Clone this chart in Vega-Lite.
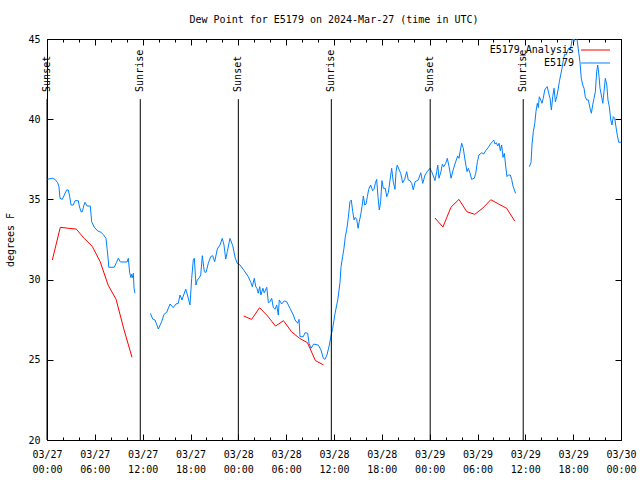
{
  "$schema": "https://vega.github.io/schema/vega-lite/v6.json",
  "width": 574,
  "height": 401,
  "autosize": "none",
  "padding": {"left": 47, "top": 39, "right": 19, "bottom": 40},
  "background": "#ffffff",
  "title": {"text": "Dew Point for E5179 on 2024-Mar-27 (time in UTC)", "font": "DejaVu Sans Mono", "fontSize": 10, "fontWeight": "normal", "color": "#000000", "offset": 9, "anchor": "middle"},
  "config": {
    "view": {"stroke": "#000000", "strokeWidth": 1},
    "font": "DejaVu Sans Mono",
    "axis": {"labelFont": "DejaVu Sans Mono", "labelFontSize": 10, "labelColor": "#000000", "titleFont": "DejaVu Sans Mono", "titleFontSize": 10, "titleFontWeight": "normal", "titleColor": "#000000", "tickColor": "#000000", "domain": false, "grid": false}
  },
  "datasets": {
    "obs": [
      {"t": "2024-03-27T00:00:00Z", "v": 36.25, "s": "E5179", "g": 1},
      {"t": "2024-03-27T00:40:00Z", "v": 36.32, "s": "E5179", "g": 1},
      {"t": "2024-03-27T01:00:00Z", "v": 36.25, "s": "E5179", "g": 1},
      {"t": "2024-03-27T01:20:00Z", "v": 36.04, "s": "E5179", "g": 1},
      {"t": "2024-03-27T01:30:00Z", "v": 35.79, "s": "E5179", "g": 1},
      {"t": "2024-03-27T01:38:00Z", "v": 35.07, "s": "E5179", "g": 1},
      {"t": "2024-03-27T01:55:00Z", "v": 35.0, "s": "E5179", "g": 1},
      {"t": "2024-03-27T02:10:00Z", "v": 35.27, "s": "E5179", "g": 1},
      {"t": "2024-03-27T02:28:00Z", "v": 35.59, "s": "E5179", "g": 1},
      {"t": "2024-03-27T02:40:00Z", "v": 35.59, "s": "E5179", "g": 1},
      {"t": "2024-03-27T02:51:00Z", "v": 35.17, "s": "E5179", "g": 1},
      {"t": "2024-03-27T03:01:00Z", "v": 34.65, "s": "E5179", "g": 1},
      {"t": "2024-03-27T03:18:00Z", "v": 34.65, "s": "E5179", "g": 1},
      {"t": "2024-03-27T03:31:00Z", "v": 34.92, "s": "E5179", "g": 1},
      {"t": "2024-03-27T03:56:00Z", "v": 34.92, "s": "E5179", "g": 1},
      {"t": "2024-03-27T04:03:00Z", "v": 34.59, "s": "E5179", "g": 1},
      {"t": "2024-03-27T04:16:00Z", "v": 34.23, "s": "E5179", "g": 1},
      {"t": "2024-03-27T04:26:00Z", "v": 34.23, "s": "E5179", "g": 1},
      {"t": "2024-03-27T04:36:00Z", "v": 34.59, "s": "E5179", "g": 1},
      {"t": "2024-03-27T04:46:00Z", "v": 34.82, "s": "E5179", "g": 1},
      {"t": "2024-03-27T05:01:00Z", "v": 34.59, "s": "E5179", "g": 1},
      {"t": "2024-03-27T05:26:00Z", "v": 34.59, "s": "E5179", "g": 1},
      {"t": "2024-03-27T05:36:00Z", "v": 33.61, "s": "E5179", "g": 1},
      {"t": "2024-03-27T05:56:00Z", "v": 33.26, "s": "E5179", "g": 1},
      {"t": "2024-03-27T06:22:00Z", "v": 33.03, "s": "E5179", "g": 1},
      {"t": "2024-03-27T06:46:00Z", "v": 32.95, "s": "E5179", "g": 1},
      {"t": "2024-03-27T07:07:00Z", "v": 32.78, "s": "E5179", "g": 1},
      {"t": "2024-03-27T07:24:00Z", "v": 32.57, "s": "E5179", "g": 1},
      {"t": "2024-03-27T07:32:00Z", "v": 31.95, "s": "E5179", "g": 1},
      {"t": "2024-03-27T07:41:00Z", "v": 31.22, "s": "E5179", "g": 1},
      {"t": "2024-03-27T07:45:00Z", "v": 30.77, "s": "E5179", "g": 1},
      {"t": "2024-03-27T08:26:00Z", "v": 30.77, "s": "E5179", "g": 1},
      {"t": "2024-03-27T08:42:00Z", "v": 31.05, "s": "E5179", "g": 1},
      {"t": "2024-03-27T08:57:00Z", "v": 31.33, "s": "E5179", "g": 1},
      {"t": "2024-03-27T09:12:00Z", "v": 31.1, "s": "E5179", "g": 1},
      {"t": "2024-03-27T10:02:00Z", "v": 31.1, "s": "E5179", "g": 1},
      {"t": "2024-03-27T10:12:00Z", "v": 31.33, "s": "E5179", "g": 1},
      {"t": "2024-03-27T10:22:00Z", "v": 30.43, "s": "E5179", "g": 1},
      {"t": "2024-03-27T10:32:00Z", "v": 30.12, "s": "E5179", "g": 1},
      {"t": "2024-03-27T10:37:00Z", "v": 30.33, "s": "E5179", "g": 1},
      {"t": "2024-03-27T10:45:00Z", "v": 30.12, "s": "E5179", "g": 1},
      {"t": "2024-03-27T10:50:00Z", "v": 30.4, "s": "E5179", "g": 1},
      {"t": "2024-03-27T10:55:00Z", "v": 29.46, "s": "E5179", "g": 1},
      {"t": "2024-03-27T11:02:00Z", "v": 29.15, "s": "E5179", "g": 1},
      {"t": "2024-03-27T12:58:00Z", "v": 27.9, "s": "E5179", "g": 2},
      {"t": "2024-03-27T13:16:00Z", "v": 27.54, "s": "E5179", "g": 2},
      {"t": "2024-03-27T13:33:00Z", "v": 27.48, "s": "E5179", "g": 2},
      {"t": "2024-03-27T13:58:00Z", "v": 26.92, "s": "E5179", "g": 2},
      {"t": "2024-03-27T14:23:00Z", "v": 27.38, "s": "E5179", "g": 2},
      {"t": "2024-03-27T14:41:00Z", "v": 27.84, "s": "E5179", "g": 2},
      {"t": "2024-03-27T15:01:00Z", "v": 27.96, "s": "E5179", "g": 2},
      {"t": "2024-03-27T15:26:00Z", "v": 28.48, "s": "E5179", "g": 2},
      {"t": "2024-03-27T15:50:00Z", "v": 28.25, "s": "E5179", "g": 2},
      {"t": "2024-03-27T16:11:00Z", "v": 28.48, "s": "E5179", "g": 2},
      {"t": "2024-03-27T16:28:00Z", "v": 28.52, "s": "E5179", "g": 2},
      {"t": "2024-03-27T16:41:00Z", "v": 29.04, "s": "E5179", "g": 2},
      {"t": "2024-03-27T16:56:00Z", "v": 28.73, "s": "E5179", "g": 2},
      {"t": "2024-03-27T17:24:00Z", "v": 29.41, "s": "E5179", "g": 2},
      {"t": "2024-03-27T17:39:00Z", "v": 28.98, "s": "E5179", "g": 2},
      {"t": "2024-03-27T17:56:00Z", "v": 28.42, "s": "E5179", "g": 2},
      {"t": "2024-03-27T18:09:00Z", "v": 30.08, "s": "E5179", "g": 2},
      {"t": "2024-03-27T18:21:00Z", "v": 31.22, "s": "E5179", "g": 2},
      {"t": "2024-03-27T18:29:00Z", "v": 31.33, "s": "E5179", "g": 2},
      {"t": "2024-03-27T18:41:00Z", "v": 29.66, "s": "E5179", "g": 2},
      {"t": "2024-03-27T18:51:00Z", "v": 29.97, "s": "E5179", "g": 2},
      {"t": "2024-03-27T19:06:00Z", "v": 30.12, "s": "E5179", "g": 2},
      {"t": "2024-03-27T19:17:00Z", "v": 30.29, "s": "E5179", "g": 2},
      {"t": "2024-03-27T19:29:00Z", "v": 31.49, "s": "E5179", "g": 2},
      {"t": "2024-03-27T19:44:00Z", "v": 30.49, "s": "E5179", "g": 2},
      {"t": "2024-03-27T19:57:00Z", "v": 30.45, "s": "E5179", "g": 2},
      {"t": "2024-03-27T20:14:00Z", "v": 31.02, "s": "E5179", "g": 2},
      {"t": "2024-03-27T20:32:00Z", "v": 31.43, "s": "E5179", "g": 2},
      {"t": "2024-03-27T20:47:00Z", "v": 31.49, "s": "E5179", "g": 2},
      {"t": "2024-03-27T21:02:00Z", "v": 31.12, "s": "E5179", "g": 2},
      {"t": "2024-03-27T21:22:00Z", "v": 31.91, "s": "E5179", "g": 2},
      {"t": "2024-03-27T21:42:00Z", "v": 32.16, "s": "E5179", "g": 2},
      {"t": "2024-03-27T21:59:00Z", "v": 32.57, "s": "E5179", "g": 2},
      {"t": "2024-03-27T22:12:00Z", "v": 32.16, "s": "E5179", "g": 2},
      {"t": "2024-03-27T22:25:00Z", "v": 31.28, "s": "E5179", "g": 2},
      {"t": "2024-03-27T22:37:00Z", "v": 31.74, "s": "E5179", "g": 2},
      {"t": "2024-03-27T22:57:00Z", "v": 32.57, "s": "E5179", "g": 2},
      {"t": "2024-03-27T23:18:00Z", "v": 32.11, "s": "E5179", "g": 2},
      {"t": "2024-03-27T23:37:00Z", "v": 31.33, "s": "E5179", "g": 2},
      {"t": "2024-03-27T23:52:00Z", "v": 31.02, "s": "E5179", "g": 2},
      {"t": "2024-03-28T00:13:00Z", "v": 30.91, "s": "E5179", "g": 2},
      {"t": "2024-03-28T00:45:00Z", "v": 30.54, "s": "E5179", "g": 2},
      {"t": "2024-03-28T01:15:00Z", "v": 30.18, "s": "E5179", "g": 2},
      {"t": "2024-03-28T01:35:00Z", "v": 29.81, "s": "E5179", "g": 2},
      {"t": "2024-03-28T01:45:00Z", "v": 29.56, "s": "E5179", "g": 2},
      {"t": "2024-03-28T02:00:00Z", "v": 30.08, "s": "E5179", "g": 2},
      {"t": "2024-03-28T02:11:00Z", "v": 29.56, "s": "E5179", "g": 2},
      {"t": "2024-03-28T02:20:00Z", "v": 29.46, "s": "E5179", "g": 2},
      {"t": "2024-03-28T02:30:00Z", "v": 29.15, "s": "E5179", "g": 2},
      {"t": "2024-03-28T02:41:00Z", "v": 29.56, "s": "E5179", "g": 2},
      {"t": "2024-03-28T02:50:00Z", "v": 29.04, "s": "E5179", "g": 2},
      {"t": "2024-03-28T03:05:00Z", "v": 29.46, "s": "E5179", "g": 2},
      {"t": "2024-03-28T03:15:00Z", "v": 29.18, "s": "E5179", "g": 2},
      {"t": "2024-03-28T03:34:00Z", "v": 29.52, "s": "E5179", "g": 2},
      {"t": "2024-03-28T03:46:00Z", "v": 28.56, "s": "E5179", "g": 2},
      {"t": "2024-03-28T03:58:00Z", "v": 28.62, "s": "E5179", "g": 2},
      {"t": "2024-03-28T04:11:00Z", "v": 28.83, "s": "E5179", "g": 2},
      {"t": "2024-03-28T04:23:00Z", "v": 28.27, "s": "E5179", "g": 2},
      {"t": "2024-03-28T04:36:00Z", "v": 28.15, "s": "E5179", "g": 2},
      {"t": "2024-03-28T04:49:00Z", "v": 28.42, "s": "E5179", "g": 2},
      {"t": "2024-03-28T05:01:00Z", "v": 27.79, "s": "E5179", "g": 2},
      {"t": "2024-03-28T05:08:00Z", "v": 28.73, "s": "E5179", "g": 2},
      {"t": "2024-03-28T05:26:00Z", "v": 28.48, "s": "E5179", "g": 2},
      {"t": "2024-03-28T05:46:00Z", "v": 28.67, "s": "E5179", "g": 2},
      {"t": "2024-03-28T06:04:00Z", "v": 28.62, "s": "E5179", "g": 2},
      {"t": "2024-03-28T06:29:00Z", "v": 28.21, "s": "E5179", "g": 2},
      {"t": "2024-03-28T06:54:00Z", "v": 27.79, "s": "E5179", "g": 2},
      {"t": "2024-03-28T07:07:00Z", "v": 27.48, "s": "E5179", "g": 2},
      {"t": "2024-03-28T07:27:00Z", "v": 27.28, "s": "E5179", "g": 2},
      {"t": "2024-03-28T07:37:00Z", "v": 27.52, "s": "E5179", "g": 2},
      {"t": "2024-03-28T07:44:00Z", "v": 26.44, "s": "E5179", "g": 2},
      {"t": "2024-03-28T08:09:00Z", "v": 26.44, "s": "E5179", "g": 2},
      {"t": "2024-03-28T08:22:00Z", "v": 26.69, "s": "E5179", "g": 2},
      {"t": "2024-03-28T08:42:00Z", "v": 26.65, "s": "E5179", "g": 2},
      {"t": "2024-03-28T08:52:00Z", "v": 26.03, "s": "E5179", "g": 2},
      {"t": "2024-03-28T09:07:00Z", "v": 25.72, "s": "E5179", "g": 2},
      {"t": "2024-03-28T09:27:00Z", "v": 25.98, "s": "E5179", "g": 2},
      {"t": "2024-03-28T10:02:00Z", "v": 25.92, "s": "E5179", "g": 2},
      {"t": "2024-03-28T10:22:00Z", "v": 25.61, "s": "E5179", "g": 2},
      {"t": "2024-03-28T10:40:00Z", "v": 25.09, "s": "E5179", "g": 2},
      {"t": "2024-03-28T10:52:00Z", "v": 25.03, "s": "E5179", "g": 2},
      {"t": "2024-03-28T11:07:00Z", "v": 25.3, "s": "E5179", "g": 2},
      {"t": "2024-03-28T11:25:00Z", "v": 25.92, "s": "E5179", "g": 2},
      {"t": "2024-03-28T11:37:00Z", "v": 26.48, "s": "E5179", "g": 2},
      {"t": "2024-03-28T11:50:00Z", "v": 26.96, "s": "E5179", "g": 2},
      {"t": "2024-03-28T12:08:00Z", "v": 27.9, "s": "E5179", "g": 2},
      {"t": "2024-03-28T12:28:00Z", "v": 28.73, "s": "E5179", "g": 2},
      {"t": "2024-03-28T12:45:00Z", "v": 29.81, "s": "E5179", "g": 2},
      {"t": "2024-03-28T12:53:00Z", "v": 30.8, "s": "E5179", "g": 2},
      {"t": "2024-03-28T13:05:00Z", "v": 31.43, "s": "E5179", "g": 2},
      {"t": "2024-03-28T13:15:00Z", "v": 31.95, "s": "E5179", "g": 2},
      {"t": "2024-03-28T13:25:00Z", "v": 32.67, "s": "E5179", "g": 2},
      {"t": "2024-03-28T13:36:00Z", "v": 33.14, "s": "E5179", "g": 2},
      {"t": "2024-03-28T13:48:00Z", "v": 33.88, "s": "E5179", "g": 2},
      {"t": "2024-03-28T14:00:00Z", "v": 34.86, "s": "E5179", "g": 2},
      {"t": "2024-03-28T14:10:00Z", "v": 34.96, "s": "E5179", "g": 2},
      {"t": "2024-03-28T14:21:00Z", "v": 34.23, "s": "E5179", "g": 2},
      {"t": "2024-03-28T14:31:00Z", "v": 33.72, "s": "E5179", "g": 2},
      {"t": "2024-03-28T14:40:00Z", "v": 33.88, "s": "E5179", "g": 2},
      {"t": "2024-03-28T14:51:00Z", "v": 33.76, "s": "E5179", "g": 2},
      {"t": "2024-03-28T15:01:00Z", "v": 33.2, "s": "E5179", "g": 2},
      {"t": "2024-03-28T15:10:00Z", "v": 33.61, "s": "E5179", "g": 2},
      {"t": "2024-03-28T15:21:00Z", "v": 34.03, "s": "E5179", "g": 2},
      {"t": "2024-03-28T15:31:00Z", "v": 34.55, "s": "E5179", "g": 2},
      {"t": "2024-03-28T15:41:00Z", "v": 35.21, "s": "E5179", "g": 2},
      {"t": "2024-03-28T15:51:00Z", "v": 34.65, "s": "E5179", "g": 2},
      {"t": "2024-03-28T16:01:00Z", "v": 34.71, "s": "E5179", "g": 2},
      {"t": "2024-03-28T16:11:00Z", "v": 35.17, "s": "E5179", "g": 2},
      {"t": "2024-03-28T16:21:00Z", "v": 35.63, "s": "E5179", "g": 2},
      {"t": "2024-03-28T16:36:00Z", "v": 35.9, "s": "E5179", "g": 2},
      {"t": "2024-03-28T16:51:00Z", "v": 35.54, "s": "E5179", "g": 2},
      {"t": "2024-03-28T17:01:00Z", "v": 35.63, "s": "E5179", "g": 2},
      {"t": "2024-03-28T17:11:00Z", "v": 36.0, "s": "E5179", "g": 2},
      {"t": "2024-03-28T17:21:00Z", "v": 36.25, "s": "E5179", "g": 2},
      {"t": "2024-03-28T17:31:00Z", "v": 35.17, "s": "E5179", "g": 2},
      {"t": "2024-03-28T17:41:00Z", "v": 34.34, "s": "E5179", "g": 2},
      {"t": "2024-03-28T17:51:00Z", "v": 34.86, "s": "E5179", "g": 2},
      {"t": "2024-03-28T18:01:00Z", "v": 36.17, "s": "E5179", "g": 2},
      {"t": "2024-03-28T18:11:00Z", "v": 35.69, "s": "E5179", "g": 2},
      {"t": "2024-03-28T18:26:00Z", "v": 35.69, "s": "E5179", "g": 2},
      {"t": "2024-03-28T18:37:00Z", "v": 35.17, "s": "E5179", "g": 2},
      {"t": "2024-03-28T18:49:00Z", "v": 35.42, "s": "E5179", "g": 2},
      {"t": "2024-03-28T19:02:00Z", "v": 36.21, "s": "E5179", "g": 2},
      {"t": "2024-03-28T19:14:00Z", "v": 36.94, "s": "E5179", "g": 2},
      {"t": "2024-03-28T19:26:00Z", "v": 36.1, "s": "E5179", "g": 2},
      {"t": "2024-03-28T19:39:00Z", "v": 35.63, "s": "E5179", "g": 2},
      {"t": "2024-03-28T19:47:00Z", "v": 36.73, "s": "E5179", "g": 2},
      {"t": "2024-03-28T19:56:00Z", "v": 37.14, "s": "E5179", "g": 2},
      {"t": "2024-03-28T20:11:00Z", "v": 36.83, "s": "E5179", "g": 2},
      {"t": "2024-03-28T20:22:00Z", "v": 36.63, "s": "E5179", "g": 2},
      {"t": "2024-03-28T20:37:00Z", "v": 36.04, "s": "E5179", "g": 2},
      {"t": "2024-03-28T20:52:00Z", "v": 36.25, "s": "E5179", "g": 2},
      {"t": "2024-03-28T21:07:00Z", "v": 36.73, "s": "E5179", "g": 2},
      {"t": "2024-03-28T21:19:00Z", "v": 36.21, "s": "E5179", "g": 2},
      {"t": "2024-03-28T21:32:00Z", "v": 36.17, "s": "E5179", "g": 2},
      {"t": "2024-03-28T21:45:00Z", "v": 36.0, "s": "E5179", "g": 2},
      {"t": "2024-03-28T21:57:00Z", "v": 35.59, "s": "E5179", "g": 2},
      {"t": "2024-03-28T22:10:00Z", "v": 36.1, "s": "E5179", "g": 2},
      {"t": "2024-03-28T22:34:00Z", "v": 36.21, "s": "E5179", "g": 2},
      {"t": "2024-03-28T22:53:00Z", "v": 36.66, "s": "E5179", "g": 2},
      {"t": "2024-03-28T23:08:00Z", "v": 36.0, "s": "E5179", "g": 2},
      {"t": "2024-03-28T23:25:00Z", "v": 36.52, "s": "E5179", "g": 2},
      {"t": "2024-03-28T23:42:00Z", "v": 36.73, "s": "E5179", "g": 2},
      {"t": "2024-03-29T00:02:00Z", "v": 36.94, "s": "E5179", "g": 2},
      {"t": "2024-03-29T00:15:00Z", "v": 36.73, "s": "E5179", "g": 2},
      {"t": "2024-03-29T00:30:00Z", "v": 36.4, "s": "E5179", "g": 2},
      {"t": "2024-03-29T00:40:00Z", "v": 36.17, "s": "E5179", "g": 2},
      {"t": "2024-03-29T00:53:00Z", "v": 36.73, "s": "E5179", "g": 2},
      {"t": "2024-03-29T01:01:00Z", "v": 37.14, "s": "E5179", "g": 2},
      {"t": "2024-03-29T01:10:00Z", "v": 36.32, "s": "E5179", "g": 2},
      {"t": "2024-03-29T01:25:00Z", "v": 36.73, "s": "E5179", "g": 2},
      {"t": "2024-03-29T01:35:00Z", "v": 37.19, "s": "E5179", "g": 2},
      {"t": "2024-03-29T01:46:00Z", "v": 37.04, "s": "E5179", "g": 2},
      {"t": "2024-03-29T02:01:00Z", "v": 37.25, "s": "E5179", "g": 2},
      {"t": "2024-03-29T02:13:00Z", "v": 37.56, "s": "E5179", "g": 2},
      {"t": "2024-03-29T02:26:00Z", "v": 37.04, "s": "E5179", "g": 2},
      {"t": "2024-03-29T02:41:00Z", "v": 36.32, "s": "E5179", "g": 2},
      {"t": "2024-03-29T02:58:00Z", "v": 36.88, "s": "E5179", "g": 2},
      {"t": "2024-03-29T03:16:00Z", "v": 37.35, "s": "E5179", "g": 2},
      {"t": "2024-03-29T03:31:00Z", "v": 37.71, "s": "E5179", "g": 2},
      {"t": "2024-03-29T03:41:00Z", "v": 37.56, "s": "E5179", "g": 2},
      {"t": "2024-03-29T03:51:00Z", "v": 38.08, "s": "E5179", "g": 2},
      {"t": "2024-03-29T04:01:00Z", "v": 38.5, "s": "E5179", "g": 2},
      {"t": "2024-03-29T04:13:00Z", "v": 38.19, "s": "E5179", "g": 2},
      {"t": "2024-03-29T04:26:00Z", "v": 37.46, "s": "E5179", "g": 2},
      {"t": "2024-03-29T04:41:00Z", "v": 36.73, "s": "E5179", "g": 2},
      {"t": "2024-03-29T04:51:00Z", "v": 36.94, "s": "E5179", "g": 2},
      {"t": "2024-03-29T05:04:00Z", "v": 36.63, "s": "E5179", "g": 2},
      {"t": "2024-03-29T05:16:00Z", "v": 36.25, "s": "E5179", "g": 2},
      {"t": "2024-03-29T05:36:00Z", "v": 36.32, "s": "E5179", "g": 2},
      {"t": "2024-03-29T05:47:00Z", "v": 36.63, "s": "E5179", "g": 2},
      {"t": "2024-03-29T05:59:00Z", "v": 37.35, "s": "E5179", "g": 2},
      {"t": "2024-03-29T06:11:00Z", "v": 37.77, "s": "E5179", "g": 2},
      {"t": "2024-03-29T06:32:00Z", "v": 37.91, "s": "E5179", "g": 2},
      {"t": "2024-03-29T06:47:00Z", "v": 37.83, "s": "E5179", "g": 2},
      {"t": "2024-03-29T07:02:00Z", "v": 38.04, "s": "E5179", "g": 2},
      {"t": "2024-03-29T07:22:00Z", "v": 38.25, "s": "E5179", "g": 2},
      {"t": "2024-03-29T07:37:00Z", "v": 38.45, "s": "E5179", "g": 2},
      {"t": "2024-03-29T07:52:00Z", "v": 38.6, "s": "E5179", "g": 2},
      {"t": "2024-03-29T08:02:00Z", "v": 38.7, "s": "E5179", "g": 2},
      {"t": "2024-03-29T08:12:00Z", "v": 38.45, "s": "E5179", "g": 2},
      {"t": "2024-03-29T08:22:00Z", "v": 38.53, "s": "E5179", "g": 2},
      {"t": "2024-03-29T08:32:00Z", "v": 38.33, "s": "E5179", "g": 2},
      {"t": "2024-03-29T08:42:00Z", "v": 38.5, "s": "E5179", "g": 2},
      {"t": "2024-03-29T08:52:00Z", "v": 38.04, "s": "E5179", "g": 2},
      {"t": "2024-03-29T09:02:00Z", "v": 38.39, "s": "E5179", "g": 2},
      {"t": "2024-03-29T09:12:00Z", "v": 37.62, "s": "E5179", "g": 2},
      {"t": "2024-03-29T09:22:00Z", "v": 37.87, "s": "E5179", "g": 2},
      {"t": "2024-03-29T09:32:00Z", "v": 37.08, "s": "E5179", "g": 2},
      {"t": "2024-03-29T09:42:00Z", "v": 36.42, "s": "E5179", "g": 2},
      {"t": "2024-03-29T09:52:00Z", "v": 36.52, "s": "E5179", "g": 2},
      {"t": "2024-03-29T10:07:00Z", "v": 36.52, "s": "E5179", "g": 2},
      {"t": "2024-03-29T10:17:00Z", "v": 36.25, "s": "E5179", "g": 2},
      {"t": "2024-03-29T10:27:00Z", "v": 35.84, "s": "E5179", "g": 2},
      {"t": "2024-03-29T10:37:00Z", "v": 35.59, "s": "E5179", "g": 2},
      {"t": "2024-03-29T10:47:00Z", "v": 35.38, "s": "E5179", "g": 2},
      {"t": "2024-03-29T12:30:00Z", "v": 37.04, "s": "E5179", "g": 3},
      {"t": "2024-03-29T12:43:00Z", "v": 37.31, "s": "E5179", "g": 3},
      {"t": "2024-03-29T12:50:00Z", "v": 38.39, "s": "E5179", "g": 3},
      {"t": "2024-03-29T13:00:00Z", "v": 39.22, "s": "E5179", "g": 3},
      {"t": "2024-03-29T13:11:00Z", "v": 39.74, "s": "E5179", "g": 3},
      {"t": "2024-03-29T13:20:00Z", "v": 40.47, "s": "E5179", "g": 3},
      {"t": "2024-03-29T13:30:00Z", "v": 40.99, "s": "E5179", "g": 3},
      {"t": "2024-03-29T13:38:00Z", "v": 40.72, "s": "E5179", "g": 3},
      {"t": "2024-03-29T13:45:00Z", "v": 41.4, "s": "E5179", "g": 3},
      {"t": "2024-03-29T13:56:00Z", "v": 41.2, "s": "E5179", "g": 3},
      {"t": "2024-03-29T14:05:00Z", "v": 40.99, "s": "E5179", "g": 3},
      {"t": "2024-03-29T14:15:00Z", "v": 41.3, "s": "E5179", "g": 3},
      {"t": "2024-03-29T14:26:00Z", "v": 41.82, "s": "E5179", "g": 3},
      {"t": "2024-03-29T14:36:00Z", "v": 41.96, "s": "E5179", "g": 3},
      {"t": "2024-03-29T14:45:00Z", "v": 42.03, "s": "E5179", "g": 3},
      {"t": "2024-03-29T14:56:00Z", "v": 41.61, "s": "E5179", "g": 3},
      {"t": "2024-03-29T15:06:00Z", "v": 41.3, "s": "E5179", "g": 3},
      {"t": "2024-03-29T15:16:00Z", "v": 40.57, "s": "E5179", "g": 3},
      {"t": "2024-03-29T15:26:00Z", "v": 41.4, "s": "E5179", "g": 3},
      {"t": "2024-03-29T15:36:00Z", "v": 41.93, "s": "E5179", "g": 3},
      {"t": "2024-03-29T15:46:00Z", "v": 41.09, "s": "E5179", "g": 3},
      {"t": "2024-03-29T15:56:00Z", "v": 41.4, "s": "E5179", "g": 3},
      {"t": "2024-03-29T16:06:00Z", "v": 41.82, "s": "E5179", "g": 3},
      {"t": "2024-03-29T16:16:00Z", "v": 42.34, "s": "E5179", "g": 3},
      {"t": "2024-03-29T16:26:00Z", "v": 42.76, "s": "E5179", "g": 3},
      {"t": "2024-03-29T16:36:00Z", "v": 43.17, "s": "E5179", "g": 3},
      {"t": "2024-03-29T16:46:00Z", "v": 43.69, "s": "E5179", "g": 3},
      {"t": "2024-03-29T16:56:00Z", "v": 44.05, "s": "E5179", "g": 3},
      {"t": "2024-03-29T17:06:00Z", "v": 44.0, "s": "E5179", "g": 3},
      {"t": "2024-03-29T17:16:00Z", "v": 44.21, "s": "E5179", "g": 3},
      {"t": "2024-03-29T17:26:00Z", "v": 44.42, "s": "E5179", "g": 3},
      {"t": "2024-03-29T17:36:00Z", "v": 44.31, "s": "E5179", "g": 3},
      {"t": "2024-03-29T17:46:00Z", "v": 44.63, "s": "E5179", "g": 3},
      {"t": "2024-03-29T17:56:00Z", "v": 45.2, "s": "E5179", "g": 3},
      {"t": "2024-03-29T18:06:00Z", "v": 44.83, "s": "E5179", "g": 3},
      {"t": "2024-03-29T18:16:00Z", "v": 45.3, "s": "E5179", "g": 3},
      {"t": "2024-03-29T18:26:00Z", "v": 45.2, "s": "E5179", "g": 3},
      {"t": "2024-03-29T18:38:00Z", "v": 44.42, "s": "E5179", "g": 3},
      {"t": "2024-03-29T18:51:00Z", "v": 43.58, "s": "E5179", "g": 3},
      {"t": "2024-03-29T19:01:00Z", "v": 42.55, "s": "E5179", "g": 3},
      {"t": "2024-03-29T19:12:00Z", "v": 42.13, "s": "E5179", "g": 3},
      {"t": "2024-03-29T19:22:00Z", "v": 41.93, "s": "E5179", "g": 3},
      {"t": "2024-03-29T19:31:00Z", "v": 41.4, "s": "E5179", "g": 3},
      {"t": "2024-03-29T19:42:00Z", "v": 41.2, "s": "E5179", "g": 3},
      {"t": "2024-03-29T19:54:00Z", "v": 41.2, "s": "E5179", "g": 3},
      {"t": "2024-03-29T20:07:00Z", "v": 40.68, "s": "E5179", "g": 3},
      {"t": "2024-03-29T20:17:00Z", "v": 40.37, "s": "E5179", "g": 3},
      {"t": "2024-03-29T20:27:00Z", "v": 40.89, "s": "E5179", "g": 3},
      {"t": "2024-03-29T20:37:00Z", "v": 41.3, "s": "E5179", "g": 3},
      {"t": "2024-03-29T20:47:00Z", "v": 41.71, "s": "E5179", "g": 3},
      {"t": "2024-03-29T20:57:00Z", "v": 42.96, "s": "E5179", "g": 3},
      {"t": "2024-03-29T21:05:00Z", "v": 43.38, "s": "E5179", "g": 3},
      {"t": "2024-03-29T21:15:00Z", "v": 42.65, "s": "E5179", "g": 3},
      {"t": "2024-03-29T21:22:00Z", "v": 41.93, "s": "E5179", "g": 3},
      {"t": "2024-03-29T21:32:00Z", "v": 41.51, "s": "E5179", "g": 3},
      {"t": "2024-03-29T21:43:00Z", "v": 40.99, "s": "E5179", "g": 3},
      {"t": "2024-03-29T21:52:00Z", "v": 41.71, "s": "E5179", "g": 3},
      {"t": "2024-03-29T22:02:00Z", "v": 42.55, "s": "E5179", "g": 3},
      {"t": "2024-03-29T22:13:00Z", "v": 42.13, "s": "E5179", "g": 3},
      {"t": "2024-03-29T22:22:00Z", "v": 41.2, "s": "E5179", "g": 3},
      {"t": "2024-03-29T22:32:00Z", "v": 40.78, "s": "E5179", "g": 3},
      {"t": "2024-03-29T22:43:00Z", "v": 39.95, "s": "E5179", "g": 3},
      {"t": "2024-03-29T22:52:00Z", "v": 39.64, "s": "E5179", "g": 3},
      {"t": "2024-03-29T23:02:00Z", "v": 40.16, "s": "E5179", "g": 3},
      {"t": "2024-03-29T23:13:00Z", "v": 40.06, "s": "E5179", "g": 3},
      {"t": "2024-03-29T23:22:00Z", "v": 39.53, "s": "E5179", "g": 3},
      {"t": "2024-03-29T23:32:00Z", "v": 39.01, "s": "E5179", "g": 3},
      {"t": "2024-03-29T23:43:00Z", "v": 38.56, "s": "E5179", "g": 3},
      {"t": "2024-03-29T23:59:00Z", "v": 38.56, "s": "E5179", "g": 3},
      {"t": "2024-03-27T00:40:00Z", "v": 31.22, "s": "E5179_Analysis", "g": 1},
      {"t": "2024-03-27T01:40:00Z", "v": 33.26, "s": "E5179_Analysis", "g": 1},
      {"t": "2024-03-27T02:40:00Z", "v": 33.2, "s": "E5179_Analysis", "g": 1},
      {"t": "2024-03-27T03:40:00Z", "v": 33.15, "s": "E5179_Analysis", "g": 1},
      {"t": "2024-03-27T04:40:00Z", "v": 32.57, "s": "E5179_Analysis", "g": 1},
      {"t": "2024-03-27T05:40:00Z", "v": 32.08, "s": "E5179_Analysis", "g": 1},
      {"t": "2024-03-27T06:40:00Z", "v": 31.12, "s": "E5179_Analysis", "g": 1},
      {"t": "2024-03-27T07:40:00Z", "v": 29.66, "s": "E5179_Analysis", "g": 1},
      {"t": "2024-03-27T08:40:00Z", "v": 28.77, "s": "E5179_Analysis", "g": 1},
      {"t": "2024-03-27T09:40:00Z", "v": 26.86, "s": "E5179_Analysis", "g": 1},
      {"t": "2024-03-27T10:40:00Z", "v": 25.15, "s": "E5179_Analysis", "g": 1},
      {"t": "2024-03-28T00:40:00Z", "v": 27.73, "s": "E5179_Analysis", "g": 2},
      {"t": "2024-03-28T01:40:00Z", "v": 27.52, "s": "E5179_Analysis", "g": 2},
      {"t": "2024-03-28T02:40:00Z", "v": 28.25, "s": "E5179_Analysis", "g": 2},
      {"t": "2024-03-28T03:40:00Z", "v": 27.73, "s": "E5179_Analysis", "g": 2},
      {"t": "2024-03-28T04:40:00Z", "v": 27.1, "s": "E5179_Analysis", "g": 2},
      {"t": "2024-03-28T05:40:00Z", "v": 27.44, "s": "E5179_Analysis", "g": 2},
      {"t": "2024-03-28T06:40:00Z", "v": 26.75, "s": "E5179_Analysis", "g": 2},
      {"t": "2024-03-28T07:40:00Z", "v": 26.34, "s": "E5179_Analysis", "g": 2},
      {"t": "2024-03-28T08:40:00Z", "v": 26.07, "s": "E5179_Analysis", "g": 2},
      {"t": "2024-03-28T09:40:00Z", "v": 24.95, "s": "E5179_Analysis", "g": 2},
      {"t": "2024-03-28T10:40:00Z", "v": 24.69, "s": "E5179_Analysis", "g": 2},
      {"t": "2024-03-29T00:40:00Z", "v": 33.84, "s": "E5179_Analysis", "g": 3},
      {"t": "2024-03-29T01:40:00Z", "v": 33.28, "s": "E5179_Analysis", "g": 3},
      {"t": "2024-03-29T02:40:00Z", "v": 34.51, "s": "E5179_Analysis", "g": 3},
      {"t": "2024-03-29T03:40:00Z", "v": 35.0, "s": "E5179_Analysis", "g": 3},
      {"t": "2024-03-29T04:40:00Z", "v": 34.23, "s": "E5179_Analysis", "g": 3},
      {"t": "2024-03-29T05:40:00Z", "v": 34.07, "s": "E5179_Analysis", "g": 3},
      {"t": "2024-03-29T06:40:00Z", "v": 34.46, "s": "E5179_Analysis", "g": 3},
      {"t": "2024-03-29T07:40:00Z", "v": 34.98, "s": "E5179_Analysis", "g": 3},
      {"t": "2024-03-29T08:40:00Z", "v": 34.71, "s": "E5179_Analysis", "g": 3},
      {"t": "2024-03-29T09:40:00Z", "v": 34.44, "s": "E5179_Analysis", "g": 3},
      {"t": "2024-03-29T10:40:00Z", "v": 33.65, "s": "E5179_Analysis", "g": 3}
    ],
    "sun": [
      {"t": "2024-03-27T00:00:00Z", "label": "Sunset"},
      {"t": "2024-03-27T11:42:00Z", "label": "Sunrise"},
      {"t": "2024-03-28T00:00:00Z", "label": "Sunset"},
      {"t": "2024-03-28T11:40:00Z", "label": "Sunrise"},
      {"t": "2024-03-29T00:04:00Z", "label": "Sunset"},
      {"t": "2024-03-29T11:44:00Z", "label": "Sunrise"}
    ]
  },
  "layer": [
    {
      "data": {"name": "obs"},
      "transform": [{"filter": "datum.s == 'E5179'"}],
      "mark": {"type": "line", "clip": true, "strokeWidth": 1},
      "encoding": {
        "x": {"field": "t", "type": "temporal",
              "scale": {"type": "utc", "domain": [1711497600000, 1711756800000]},
              "axis": {"orient": "bottom", "title": null,
                       "values": [1711497600000, 1711519200000, 1711540800000, 1711562400000, 1711584000000, 1711605600000, 1711627200000, 1711648800000, 1711670400000, 1711692000000, 1711713600000, 1711735200000, 1711756800000],
                       "tickSize": -6,
                       "labelExpr": "[utcFormat(datum.value, '%m/%d'), utcFormat(datum.value, '%H:%M')]",
                       "labelOverlap": false, "labelFlush": false, "labelPadding": 15, "labelLineHeight": 15, "labelBaseline": "top"}},
        "y": {"field": "v", "type": "quantitative",
              "scale": {"domain": [20, 45], "nice": false, "zero": false},
              "axis": {"orient": "left", "title": "degrees F", "values": [20, 25, 30, 35, 40, 45], "tickSize": -6, "labelPadding": 13, "titlePadding": 12}},
        "color": {"field": "s", "type": "nominal",
                  "scale": {"domain": ["E5179_Analysis", "E5179"], "range": ["#ff0000", "#0080ff"]},
                  "legend": {"orient": "none", "legendX": 543, "legendY": 5.5, "title": null, "symbolType": "M-2.9,0H2.9", "symbolSize": 100, "symbolStrokeWidth": 1,
                             "labelAlign": "right", "labelOffset": -27, "labelFont": "DejaVu Sans Mono", "labelFontSize": 10, "labelColor": "#000000", "rowPadding": 2, "padding": 0}},
        "detail": {"field": "g", "type": "nominal"}
      }
    },
    {
      "data": {"name": "obs"},
      "transform": [{"filter": "datum.s == 'E5179_Analysis'"}],
      "mark": {"type": "line", "clip": true, "strokeWidth": 1},
      "encoding": {
        "x": {"field": "t", "type": "temporal",
              "axis": {"orient": "top", "title": null, "labels": false,
                       "values": [1711497600000, 1711519200000, 1711540800000, 1711562400000, 1711584000000, 1711605600000, 1711627200000, 1711648800000, 1711670400000, 1711692000000, 1711713600000, 1711735200000, 1711756800000],
                       "tickSize": -6}},
        "y": {"field": "v", "type": "quantitative",
              "axis": {"orient": "right", "title": null, "labels": false, "values": [20, 25, 30, 35, 40, 45], "tickSize": -6}},
        "color": {"field": "s", "type": "nominal"},
        "detail": {"field": "g", "type": "nominal"}
      }
    },
    {
      "data": {"name": "sun"},
      "mark": {"type": "rule", "color": "#000000", "strokeWidth": 1},
      "encoding": {
        "x": {"field": "t", "type": "temporal",
              "axis": {"orient": "bottom", "title": null, "labels": false, "tickSize": -3,
                       "values": [1711497600000, 1711504800000, 1711512000000, 1711519200000, 1711526400000, 1711533600000, 1711540800000, 1711548000000, 1711555200000, 1711562400000, 1711569600000, 1711576800000, 1711584000000, 1711591200000, 1711598400000, 1711605600000, 1711612800000, 1711620000000, 1711627200000, 1711634400000, 1711641600000, 1711648800000, 1711656000000, 1711663200000, 1711670400000, 1711677600000, 1711684800000, 1711692000000, 1711699200000, 1711706400000, 1711713600000, 1711720800000, 1711728000000, 1711735200000, 1711742400000, 1711749600000, 1711756800000]}},
        "y": {"datum": 41.25, "type": "quantitative", "axis": null},
        "y2": {"datum": 20}
      }
    },
    {
      "data": {"name": "sun"},
      "mark": {"type": "text", "angle": 270, "align": "left", "baseline": "middle", "font": "DejaVu Sans Mono", "fontSize": 10, "color": "#000000"},
      "encoding": {
        "x": {"field": "t", "type": "temporal",
              "axis": {"orient": "top", "title": null, "labels": false, "tickSize": -3,
                       "values": [1711497600000, 1711504800000, 1711512000000, 1711519200000, 1711526400000, 1711533600000, 1711540800000, 1711548000000, 1711555200000, 1711562400000, 1711569600000, 1711576800000, 1711584000000, 1711591200000, 1711598400000, 1711605600000, 1711612800000, 1711620000000, 1711627200000, 1711634400000, 1711641600000, 1711648800000, 1711656000000, 1711663200000, 1711670400000, 1711677600000, 1711684800000, 1711692000000, 1711699200000, 1711706400000, 1711713600000, 1711720800000, 1711728000000, 1711735200000, 1711742400000, 1711749600000, 1711756800000]}},
        "y": {"datum": 41.7, "type": "quantitative", "axis": null},
        "text": {"field": "label", "type": "nominal"}
      }
    }
  ],
  "resolve": {"axis": {"x": "independent", "y": "independent"}}
}
